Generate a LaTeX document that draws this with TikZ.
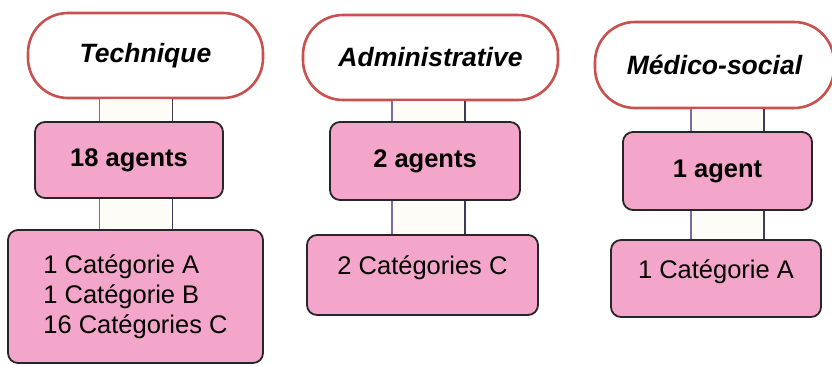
\documentclass[tikz,border=0pt]{standalone}
\usepackage{fontspec}
\setmainfont{Liberation Sans}
\usetikzlibrary{calc}
\definecolor{titleborder}{HTML}{C8504F}
\definecolor{boxpink}{HTML}{F4A5CA}
\definecolor{linkfill}{HTML}{FEFCF6}
\definecolor{linkleft}{HTML}{7B6CA6}
\definecolor{linkright}{HTML}{3C3C58}
\tikzstyle{pole} = [
    draw=titleborder,
    fill=white,
    line width=2.6pt,
    rounded corners=40pt,
    inner sep=0pt,
    font=\bfseries\itshape\fontsize{26.5}{30}\selectfont
    ]
\tikzstyle{effectif} = [
    draw=black!85,
    fill=boxpink,
    line width=1.8pt,
    rounded corners=10pt,
    inner sep=0pt,
    font=\bfseries\fontsize{25.5}{30}\selectfont
    ]
\tikzstyle{categorie} = [
    effectif,
    align=left,
    font=\fontsize{25.5}{30}\selectfont
    ]

\begin{document}
\begin{tikzpicture}[x=1pt,y=-1pt]
\useasboundingbox (0,0) rectangle (832,365);
% axes of the columns
\coordinate (k1) at (136,0);
\coordinate (k2) at (428.5,0);
\coordinate (k3) at (727.5,0);

% Technique
\node[pole, minimum width=235pt, minimum height=85pt] (t1) at (145.5,55.5) {Technique};
\node[effectif, minimum width=188pt, minimum height=76pt] (a1) at (129,160) {18 agents};
\node[categorie, minimum width=255pt, minimum height=133pt] (b1) at (135.5,296.5) {1 Catégorie A\\1 Catégorie B\\16 Catégories C};

% Administrative
\node[pole, minimum width=255pt, minimum height=85pt] (t2) at (430.5,57.5) {Administrative};
\node[effectif, minimum width=190pt, minimum height=78pt] (a2) at (425,161) {2 agents};
\node[categorie, minimum width=231pt, minimum height=80pt, text depth=19pt] (b2) at (422.5,275) {2 Catégories C};

% Medico-social
\node[pole, minimum width=239pt, minimum height=86pt] (t3) at (714.5,65) {Médico-social};
\node[effectif, minimum width=189pt, minimum height=78pt] (a3) at (717.5,171) {1 agent};
\node[categorie, minimum width=210pt, minimum height=77pt, text depth=19pt] (b3) at (716,278.5) {1 Catégorie A};

\foreach \haut/\bas/\axe in {t1/a1/k1, a1/b1/k1, t2/a2/k2, a2/b2/k2, t3/a3/k3, a3/b3/k3}{
    \fill[linkfill] ([xshift=-36.5pt]\axe|-\haut.south) rectangle ([xshift=36.5pt]\axe|-\bas.north);
    \draw[linkleft, line width=1.8pt] ([xshift=-36.5pt]\axe|-\haut.south) -- ([xshift=-36.5pt]\axe|-\bas.north);
    \draw[linkright, line width=1.8pt] ([xshift=36.5pt]\axe|-\haut.south) -- ([xshift=36.5pt]\axe|-\bas.north);
}
\end{tikzpicture}
\end{document}
